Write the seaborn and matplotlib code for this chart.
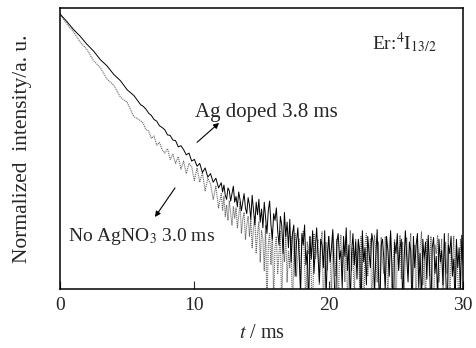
import numpy as np
import pandas as pd
import matplotlib
matplotlib.use("Agg")
import matplotlib.pyplot as plt
import seaborn as sns

# -------------------------------
# DATA (log of normalized intensity)
# -------------------------------

t_ms = [0.0, 0.5, 1.0, 1.5, 2.0, 2.5, 3.0, 3.5, 4.0, 4.5, 5.0, 5.5, 6.0,
        6.2, 6.4, 6.6, 6.8, 7.0, 7.2, 7.4, 7.6, 7.8, 8.0,
        8.2, 8.4, 8.6, 8.8, 9.0, 9.2, 9.4, 9.6, 9.8, 10.0,
        10.2, 10.4, 10.6, 10.8, 11.0, 11.2, 11.4, 11.6, 11.8, 12.0,
        12.1, 12.2, 12.3, 12.4, 12.5, 12.6, 12.7, 12.8, 12.9, 13.0,
        13.1, 13.2, 13.3, 13.4, 13.5, 13.6, 13.7, 13.8, 13.9, 14.0,
        14.1, 14.2, 14.3, 14.4, 14.5, 14.6, 14.7, 14.8, 14.9, 15.0,
        15.1, 15.2, 15.3, 15.4, 15.5, 15.6, 15.7, 15.8, 15.9, 16.0,
        16.1, 16.2, 16.3, 16.4, 16.5, 16.6, 16.7, 16.8, 16.9, 17.0,
        17.1, 17.2, 17.3, 17.4, 17.5, 17.6, 17.7, 17.8, 17.9, 18.0,
        18.1, 18.2, 18.3, 18.4, 18.5, 18.6, 18.7, 18.8, 18.9, 19.0,
        19.1, 19.2, 19.3, 19.4, 19.5, 19.6, 19.7, 19.8, 19.9, 20.0,
        20.1, 20.2, 20.3, 20.4, 20.5, 20.6, 20.7, 20.8, 20.9, 21.0,
        21.1, 21.2, 21.3, 21.4, 21.5, 21.6, 21.7, 21.8, 21.9, 22.0,
        22.1, 22.2, 22.3, 22.4, 22.5, 22.6, 22.7, 22.8, 22.9, 23.0,
        23.1, 23.2, 23.3, 23.4, 23.5, 23.6, 23.7, 23.8, 23.9, 24.0,
        24.1, 24.2, 24.3, 24.4, 24.5, 24.6, 24.7, 24.8, 24.9, 25.0,
        25.1, 25.2, 25.3, 25.4, 25.5, 25.6, 25.7, 25.8, 25.9, 26.0,
        26.1, 26.2, 26.3, 26.4, 26.5, 26.6, 26.7, 26.8, 26.9, 27.0,
        27.1, 27.2, 27.3, 27.4, 27.5, 27.6, 27.7, 27.8, 27.9, 28.0,
        28.1, 28.2, 28.3, 28.4, 28.5, 28.6, 28.7, 28.8, 28.9, 29.0,
        29.1, 29.2, 29.3, 29.4, 29.5, 29.6, 29.7, 29.8, 29.9, 30.0]

ag_doped = [0.00, -0.13, -0.27, -0.39, -0.53, -0.65, -0.80, -0.91, -1.06, -1.17, -1.33, -1.43, -1.59,
            -1.62, -1.67, -1.74, -1.78, -1.85, -1.88, -1.96, -1.99, -2.03, -2.12,
            -2.13, -2.21, -2.22, -2.33, -2.31, -2.38, -2.47, -2.44, -2.58, -2.55,
            -2.67, -2.62, -2.78, -2.70, -2.86, -2.80, -2.95, -2.88, -3.05, -2.96,
            -3.12, -3.00, -3.18, -3.25, -3.05, -3.10, -3.28, -3.15, -3.02, -3.30,
            -3.20, -3.38, -3.12, -3.26, -3.45, -3.30, -3.15, -3.40, -3.50, -3.22,
            -3.35, -3.60, -3.18, -3.45, -3.70, -3.30, -3.52, -3.25, -3.65, -3.42,
            -3.75, -3.30, -3.58, -3.85, -3.45, -3.28, -3.70, -3.95, -3.50, -3.62,
            -3.40, -3.80, -4.05, -3.55, -3.70, -4.20, -3.48, -3.90, -3.65, -4.10,
            -3.60, -4.35, -3.85, -3.70, -4.60, -4.00, -3.75, -4.25, -4.90, -3.85,
            -4.05, -3.70, -4.40, -4.15, -5.20, -3.90, -4.30, -3.80, -4.55, -4.10,
            -3.75, -4.25, -4.70, -3.95, -4.05, -4.45, -3.80, -5.00, -4.20, -3.90,
            -4.35, -4.10, -3.78, -4.60, -5.40, -4.00, -3.85, -4.30, -4.15, -4.80,
            -3.90, -4.25, -3.75, -4.50, -4.05, -5.10, -4.20, -3.85, -4.40, -4.00,
            -4.65, -3.95, -4.15, -5.30, -3.80, -4.35, -4.10, -4.75, -3.90, -4.20,
            -4.45, -3.85, -4.00, -4.95, -4.25, -3.78, -4.55, -5.25, -4.05, -3.95,
            -4.30, -4.85, -3.90, -4.15, -4.60, -3.80, -4.40, -5.45, -4.00, -4.20,
            -3.85, -4.50, -4.10, -3.95, -5.05, -4.35, -3.80, -4.25, -4.70, -4.00,
            -4.15, -5.35, -3.90, -4.45, -4.05, -3.85, -4.80, -4.20, -5.10, -3.95,
            -4.30, -4.00, -4.65, -3.88, -4.40, -5.20, -4.10, -3.92, -4.55, -4.25,
            -5.00, -3.95, -4.35, -4.15, -4.75, -3.85, -4.50, -5.40, -4.05, -4.20,
            -3.90, -4.60, -4.30, -5.15, -3.95, -4.45, -4.10, -4.85, -3.88, -4.40]

no_agno3 = [0.00, -0.17, -0.31, -0.49, -0.62, -0.82, -0.94, -1.14, -1.25, -1.46, -1.55, -1.80, -1.87,
            -1.92, -2.03, -2.05, -2.18, -2.14, -2.30, -2.25, -2.38, -2.44, -2.36,
            -2.55, -2.46, -2.62, -2.50, -2.72, -2.58, -2.80, -2.62, -2.68, -2.92,
            -2.70, -2.95, -2.78, -3.10, -2.88, -2.98, -3.25, -3.02, -3.40, -3.15,
            -3.45, -3.20, -3.55, -3.35, -3.62, -3.28, -3.50, -3.70, -3.38, -3.58,
            -3.40, -3.75, -3.55, -3.30, -3.85, -3.60, -3.48, -3.95, -3.70, -3.55,
            -3.90, -3.60, -4.10, -3.75, -3.55, -4.20, -3.85, -3.65, -4.35, -3.80,
            -3.95, -4.50, -3.70, -5.20, -4.05, -3.85, -4.40, -3.78, -5.00, -4.10,
            -3.90, -4.55, -4.20, -3.80, -5.30, -4.00, -4.35, -3.85, -4.70, -4.15,
            -4.45, -3.90, -5.40, -4.10, -3.85, -4.60, -4.25, -3.95, -4.80, -4.05,
            -3.80, -4.40, -5.10, -4.00, -4.20, -3.90, -4.65, -5.35, -3.85, -4.30,
            -4.15, -3.95, -4.75, -4.05, -3.82, -5.20, -4.35, -4.00, -4.50, -3.90,
            -4.25, -4.95, -3.85, -4.10, -4.60, -3.95, -5.30, -4.20, -3.88, -4.45,
            -4.05, -4.70, -3.92, -5.15, -4.30, -3.80, -4.50, -4.10, -5.00, -3.95,
            -4.35, -4.00, -4.85, -3.90, -4.20, -5.40, -4.05, -3.85, -4.60, -4.25,
            -3.95, -5.05, -4.40, -3.88, -4.15, -4.70, -4.00, -5.25, -3.92, -4.35,
            -4.55, -3.90, -4.20, -5.10, -4.05, -3.85, -4.80, -4.30, -3.95, -5.35,
            -4.10, -4.45, -3.88, -4.65, -4.00, -5.00, -4.25, -3.92, -4.55, -4.15,
            -3.85, -4.90, -4.20, -4.05, -5.25, -3.95, -4.40, -4.10, -3.82, -4.75,
            -4.30, -5.15, -3.95, -4.15, -4.60, -3.90, -4.45, -5.40, -4.05, -4.20,
            -3.88, -4.70, -4.35, -3.95, -5.05, -4.25, -4.00, -4.55, -3.85, -5.30,
            -4.15, -4.40, -3.90, -4.85, -4.05, -4.60, -5.20, -3.95, -4.30, -4.10]

xticks = [0, 10, 20, 30]

df = pd.DataFrame({"t": t_ms, "ag": ag_doped, "no": no_agno3})

# -------------------------------
# STYLE
# -------------------------------

sns.set_theme(style="white")
plt.rcParams['font.family'] = ['Liberation Serif', 'DejaVu Serif']
plt.rcParams['mathtext.fontset'] = 'stix'

fig = plt.figure(figsize=(4.76, 3.48), dpi=100)
ax = fig.add_axes([0.126, 0.170, 0.847, 0.807])

# -------------------------------
# CURVES
# -------------------------------

sns.lineplot(data=df, x="t", y="no", ax=ax, estimator=None,
             color="0.4", lw=0.8, linestyle=(0, (1, 0.8)))
sns.lineplot(data=df, x="t", y="ag", ax=ax, estimator=None,
             color="black", lw=0.7)

ax.set_xlim(0, 30)
ax.set_ylim(-4.82, 0.105)

ax.set_xticks(xticks)
ax.set_xticklabels([str(v) for v in xticks], fontsize=14)
ax.set_yticks([])
ax.tick_params(axis='x', direction='in', length=6, width=0.8, pad=6,
               bottom=True, top=False)

for s in ax.spines.values():
    s.set_color("black")
    s.set_linewidth(1.1)

ax.set_xlabel(r"$t$ / ms", fontsize=14.5, labelpad=7)
ax.set_ylabel("Normalized  intensity/a. u.", fontsize=15.5, labelpad=20)

# -------------------------------
# LABELS
# -------------------------------

ax.text(10.05, -1.72, "Ag doped 3.8 ms", fontsize=15, ha='left', va='center')
ax.annotate("", xy=(11.84, -1.91), xytext=(10.2, -2.25),
            arrowprops=dict(arrowstyle='-|>', lw=0.8, color='black',
                            mutation_scale=8, shrinkA=0, shrinkB=0))

ax.text(0.6, -3.91, r"No AgNO$_3$ 3.0 ms", fontsize=14, ha='left', va='center')
ax.annotate("", xy=(7.07, -3.56), xytext=(8.56, -3.05),
            arrowprops=dict(arrowstyle='-|>', lw=0.8, color='black',
                            mutation_scale=8, shrinkA=0, shrinkB=0))

ax.text(23.2, -0.51, r"Er:$^{4}$I$_{13/2}$", fontsize=14, ha='left', va='center')

plt.savefig("out.png", dpi=100)
